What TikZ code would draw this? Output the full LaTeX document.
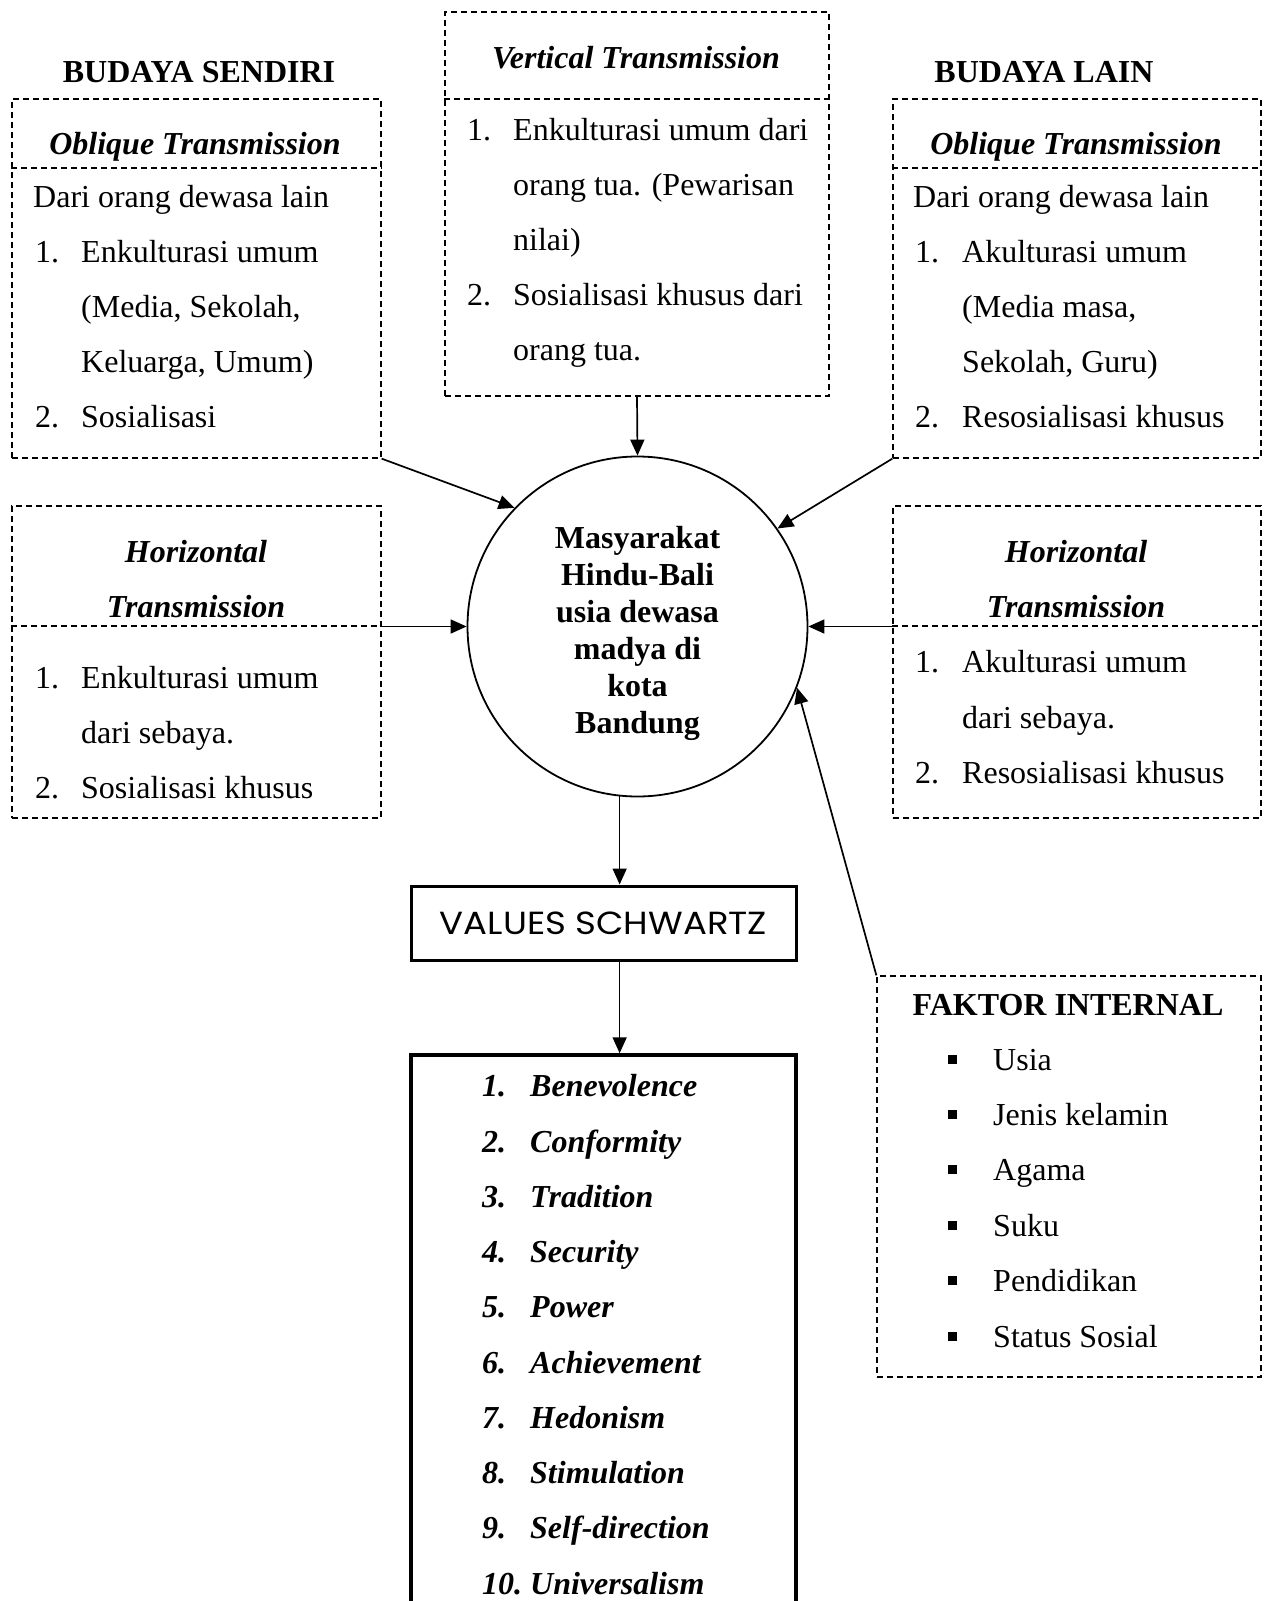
\documentclass[tikz,border=0pt]{standalone}
\usepackage{fontspec}
\setmainfont{Liberation Serif}
\newfontfamily\gothic[FakeStretch=1.11]{Poppins}
\usetikzlibrary{arrows.meta}
\begin{document}
\begin{tikzpicture}[x=1pt,y=-1pt,
  dbox/.style={draw, dash pattern=on 6pt off 4pt, line width=1.3pt, inner sep=0pt},
  dline/.style={dash pattern=on 6pt off 4pt, line width=1.3pt},
  txt/.style={inner sep=0pt, anchor=base west, font=\fontsize{32}{37}\selectfont},
  ctxt/.style={inner sep=0pt, anchor=base, font=\fontsize{32}{37}\selectfont},
  htxt/.style={inner sep=0pt, anchor=base, font=\bfseries\itshape\fontsize{32}{37}\selectfont},
  btxt/.style={inner sep=0pt, anchor=base, font=\bfseries\fontsize{32}{37}\selectfont},
  ltxt/.style={inner sep=0pt, anchor=base west, font=\bfseries\itshape\fontsize{32}{37}\selectfont},
  bul/.style={fill, minimum size=9pt, inner sep=0pt},
  conn/.style={line width=1.7pt, -{Triangle[length=16pt,width=14pt]}},
  sbox/.style={draw, line width=3pt, inner sep=0pt}]
\useasboundingbox (0,0) rectangle (1268,1601);
\fill[white] (0,0) rectangle (1268,1601);
\clip (0,0) rectangle (1268,1601);

% headings
\node[btxt] (hSend) at (199,82) {BUDAYA SENDIRI};
\node[btxt] (hLain) at (1044,82) {BUDAYA LAIN};

% boxes
\node[dbox, minimum width=369pt, minimum height=359pt] (obL) at (196.5,278.5) {};
\node[dbox, minimum width=384pt, minimum height=384pt] (vert) at (637,204) {};
\node[dbox, minimum width=368pt, minimum height=359pt] (obR) at (1077,278.5) {};
\node[dbox, minimum width=369pt, minimum height=312pt] (hzL) at (196.5,662) {};
\node[dbox, minimum width=368pt, minimum height=312pt] (hzR) at (1077,662) {};
\node[dbox, minimum width=384pt, minimum height=401pt] (fak) at (1069,1176.5) {};

% separators
\coordinate (sObL) at (0,168);
\coordinate (sVert) at (0,99);
\coordinate (sHz) at (0,626);
\draw[dline] (obL.west |- sObL) -- (obL.east |- sObL);
\draw[dline] (obR.west |- sObL) -- (obR.east |- sObL);
\draw[dline] (vert.west |- sVert) -- (vert.east |- sVert);
\draw[dline] (hzL.west |- sHz) -- (hzL.east |- sHz);
\draw[dline] (hzR.west |- sHz) -- (hzR.east |- sHz);

% left oblique
\node[htxt] (obLt) at (195,154) {Oblique Transmission};
\node[txt] (obL0) at (33,207) {Dari orang dewasa lain};
\node[txt] (obL1n) at (35,262) {1.};
\node[txt] (obL1) at (81,262) {Enkulturasi umum};
\node[txt] (obL1b) at (81,317) {(Media, Sekolah,};
\node[txt] (obL1c) at (81,372) {Keluarga, Umum)};
\node[txt] (obL2n) at (35,427) {2.};
\node[txt] (obL2) at (81,427) {Sosialisasi};

% vertical
\node[htxt] (vertt) at (636,68) {Vertical Transmission};
\node[txt] (vert1n) at (467,140) {1.};
\node[txt] (vert1) at (513,140) {Enkulturasi umum dari};
\node[txt] (vert1b) at (513,195) {orang tua. (Pewarisan};
\node[txt] (vert1c) at (513,250) {nilai)};
\node[txt] (vert2n) at (467,305) {2.};
\node[txt] (vert2) at (513,305) {Sosialisasi khusus dari};
\node[txt] (vert2b) at (513,360) {orang tua.};

% right oblique
\node[htxt] (obRt) at (1076,154) {Oblique Transmission};
\node[txt] (obR0) at (913,207) {Dari orang dewasa lain};
\node[txt] (obR1n) at (915,262) {1.};
\node[txt] (obR1) at (962,262) {Akulturasi umum};
\node[txt] (obR1b) at (962,317) {(Media masa,};
\node[txt] (obR1c) at (962,372) {Sekolah, Guru)};
\node[txt] (obR2n) at (915,427) {2.};
\node[txt] (obR2) at (962,427) {Resosialisasi khusus};

% left horizontal
\node[htxt] (hzLt1) at (196,562) {Horizontal};
\node[htxt] (hzLt2) at (196,617) {Transmission};
\node[txt] (hzL1n) at (35,688) {1.};
\node[txt] (hzL1) at (81,688) {Enkulturasi umum};
\node[txt] (hzL1b) at (81,743) {dari sebaya.};
\node[txt] (hzL2n) at (35,798) {2.};
\node[txt] (hzL2) at (81,798) {Sosialisasi khusus};

% right horizontal
\node[htxt] (hzRt1) at (1076,562) {Horizontal};
\node[htxt] (hzRt2) at (1076,617) {Transmission};
\node[txt] (hzR1n) at (915,672) {1.};
\node[txt] (hzR1) at (962,672) {Akulturasi umum};
\node[txt] (hzR1b) at (962,728) {dari sebaya.};
\node[txt] (hzR2n) at (915,783) {2.};
\node[txt] (hzR2) at (962,783) {Resosialisasi khusus};

% circle
\node[circle, draw, line width=1.8pt, minimum size=340pt, inner sep=0pt] (circ) at (637.5,626.5) {};
\node[inner sep=0pt, align=center, font=\bfseries\fontsize{32}{37}\selectfont] (circt) at (637.5,633)
  {Masyarakat\\Hindu-Bali\\usia dewasa\\madya di\\kota\\Bandung};

% values
\node[sbox, minimum width=385pt, minimum height=74pt, font=\gothic\fontsize{32}{38}\selectfont] (vals) at (603.5,923) {VALUES SCHWARTZ};
\node[sbox, line width=3.5pt, minimum width=385pt, minimum height=600pt] (list) at (603.5,1355) {};

\foreach \i/\t in {1/Benevolence,2/Conformity,3/Tradition,4/Security,5/Power,6/Achievement,7/Hedonism,8/Stimulation,9/Self-direction,10/Universalism}{
  \node[ltxt] (ln\i) at (482,{1096.75+(\i-1)*55.25}) {\i.};
  \node[ltxt] (lt\i) at (530,{1096.75+(\i-1)*55.25}) {\t};
}

% faktor internal
\node[btxt] (fakt) at (1068,1015) {FAKTOR INTERNAL};
\foreach \i/\t in {1/Usia,2/Jenis kelamin,3/Agama,4/Suku,5/Pendidikan,6/Status Sosial}{
  \node[bul] (fb\i) at (952,{1070+(\i-1)*55.4-11}) {};
  \node[txt] (ft\i) at (993,{1070+(\i-1)*55.4}) {\t};
}

% connectors
\draw[conn] (vert.south) -- (circ.north);
\draw[conn] (obL.south east) -- (circ.136);
\draw[conn] (obR.south west) -- (circ.35);
\draw[conn] (circ.west -| hzL.east) -- (circ.west);
\draw[conn] (circ.east -| hzR.west) -- (circ.east);
\draw[conn] (fak.north west) -- (circ.-21);
\draw[conn] (circ.264) -- (circ.264 |- vals.north);
\draw[conn] (circ.264 |- vals.south) -- (circ.264 |- list.north);
\end{tikzpicture}
\end{document}
